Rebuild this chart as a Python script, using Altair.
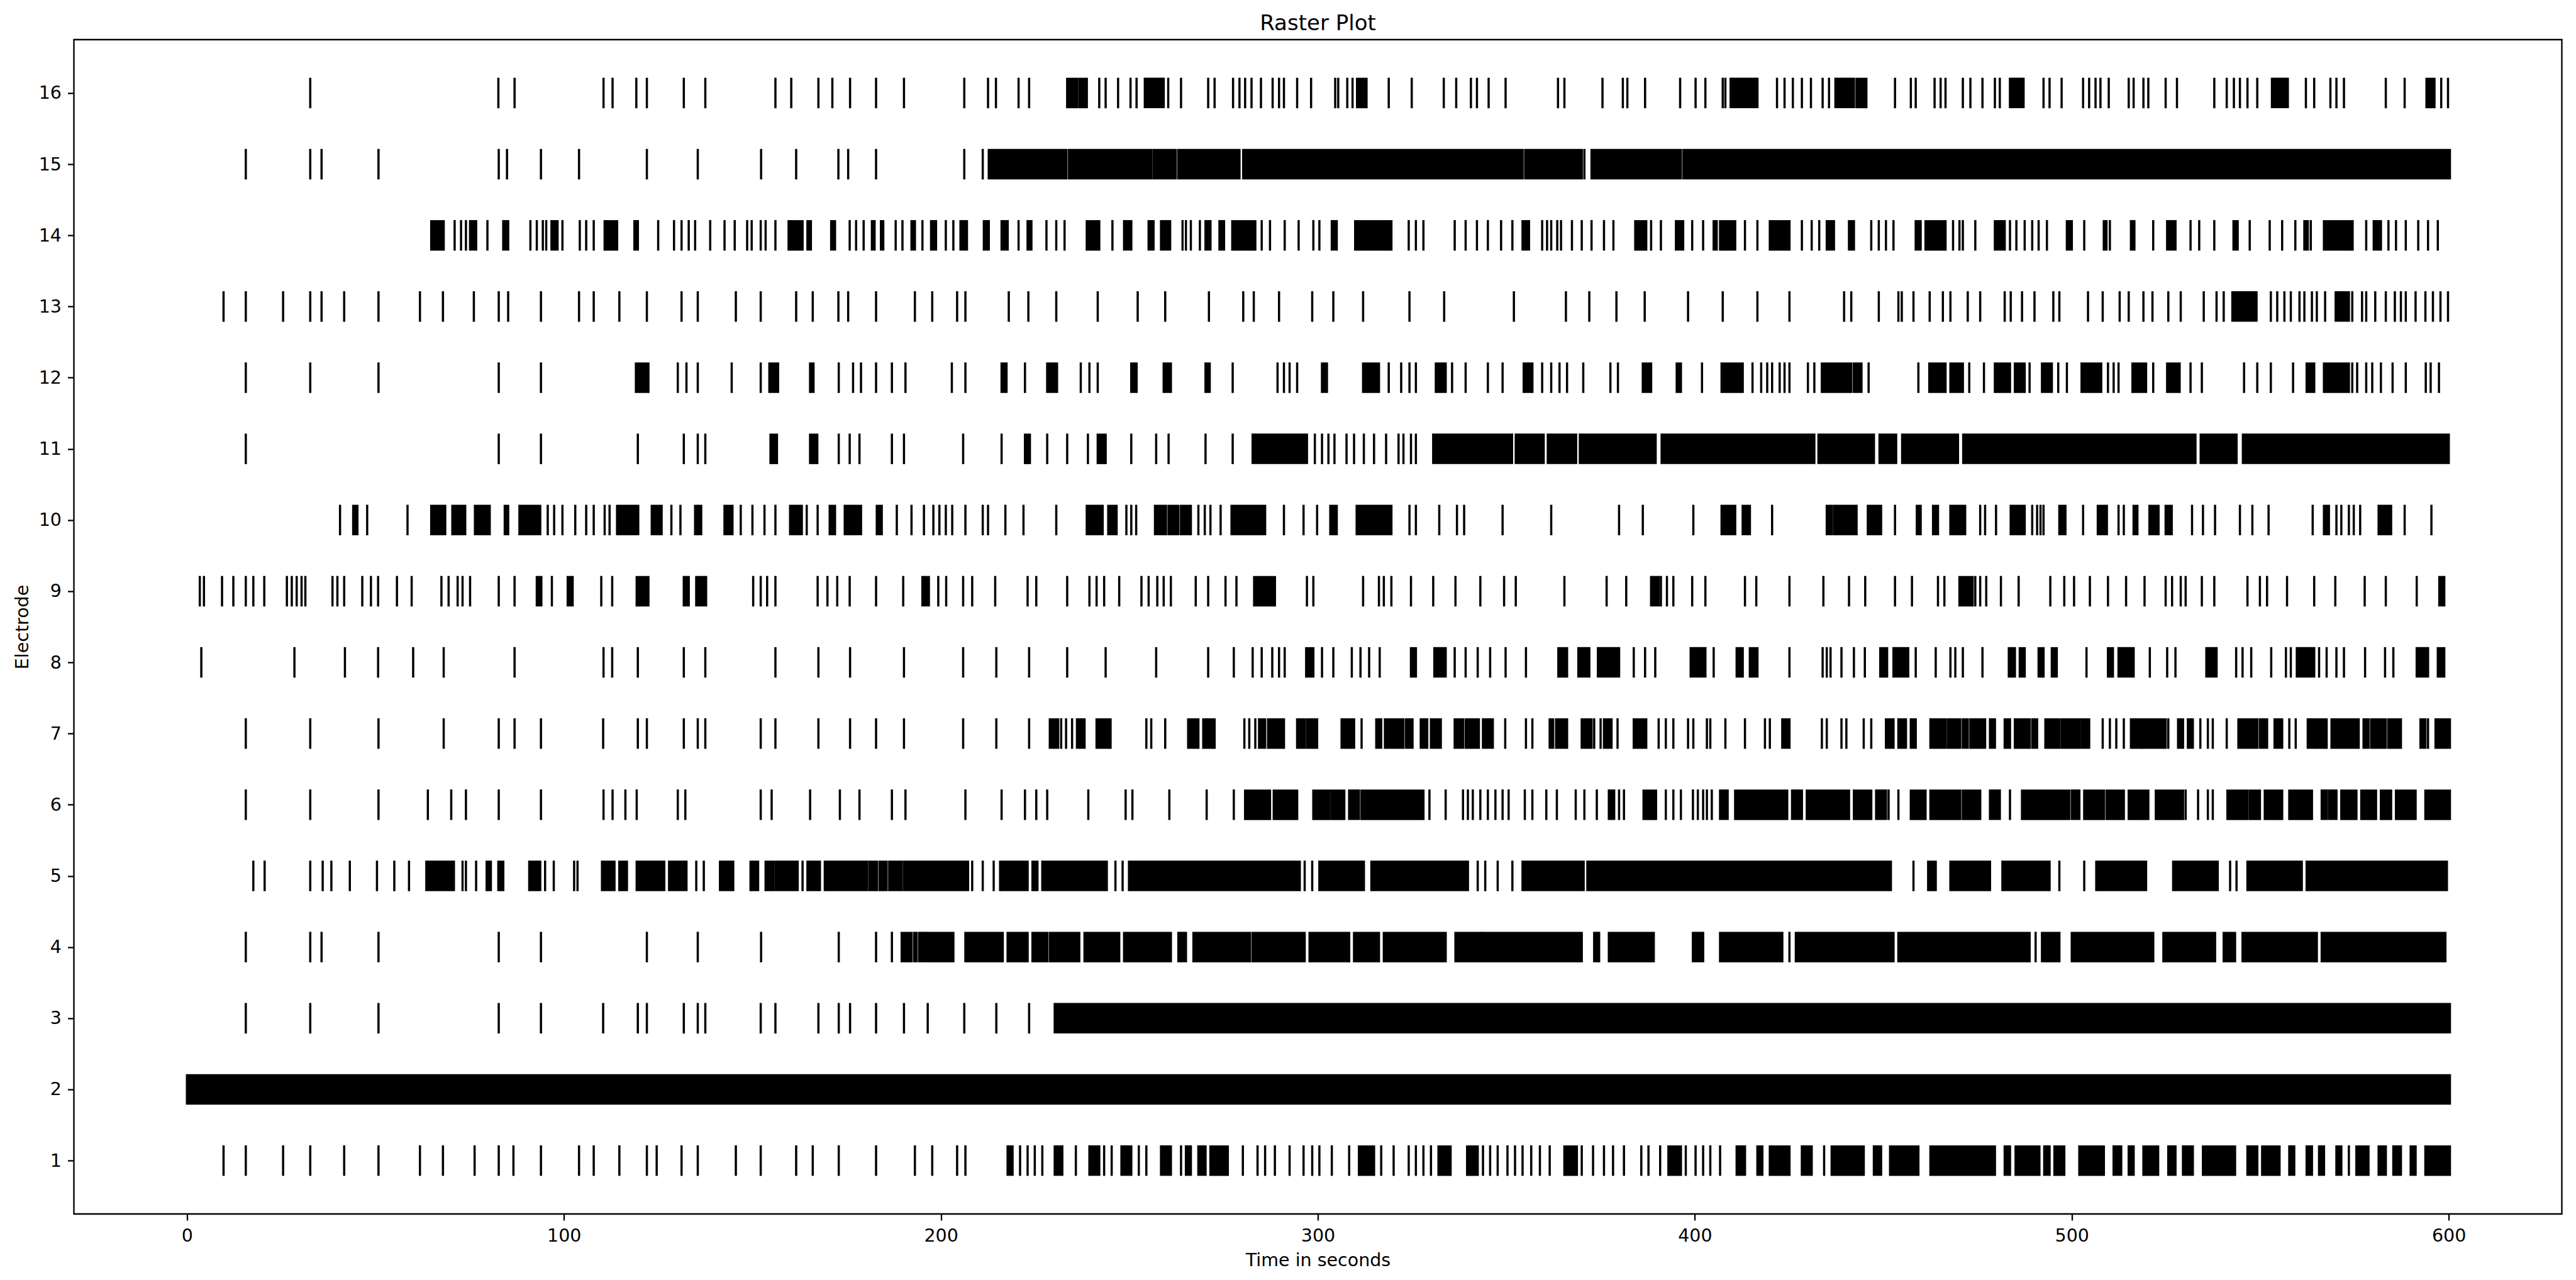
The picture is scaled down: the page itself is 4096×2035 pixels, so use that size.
import altair as alt
import pandas as pd

# ---- spike times (seconds), per electrode ----
E16_SPIKES = [32.7, 82.6, 86.9, 110.5, 112.9, 119.2, 122.0, 131.8, 137.5, 156.1, 160.3, 167.5, 171.2, 175.9, 182.8, 190.2,
              206.2, 212.5, 214.6, 220.6, 223.4, 242.0, 243.7, 247.0, 250.3, 251.9, 260.3, 263.7, 270.9, 272.6, 277.5,
              279.2, 280.7, 282.4, 284.9, 288.0, 289.7, 291.0, 294.5, 298.2, 304.6, 305.4, 307.8, 309.2, 318.8, 324.9,
              333.4, 336.7, 340.6, 342.2, 345.3, 349.8, 363.7, 365.4, 375.5, 380.9, 382.1, 386.8, 396.1, 400.2, 402.8,
              407.4, 408.1, 421.8, 423.8, 426.0, 428.4, 430.8, 433.9, 435.6, 453.1, 457.3, 458.6, 463.6, 465.2, 466.5,
              471.1, 473.1, 476.3, 479.6, 480.9, 492.5, 494.1, 497.3, 503.0, 504.6, 506.3, 507.6, 509.8, 515.1, 516.4,
              519.0, 520.3, 524.9, 527.9, 537.8, 541.1, 543.0, 544.6, 546.6, 549.2, 562.1, 564.3, 568.6, 570.2, 572.2,
              583.3, 588.3, 598.0, 599.8]
E16_BURSTS = [[233.5, 236.1], [236.7, 238.7], [254.1, 259.1], [310.4, 312.9], [409.5, 416.6], [437.3, 442.2],
              [442.9, 445.5], [483.6, 487.2], [553.1, 557.3], [594.1, 596.2]]

E15_SPIKES = [15.6, 32.7, 35.7, 50.8, 82.7, 84.9, 93.9, 104.0, 122.0, 135.5, 152.3, 161.6, 172.8, 175.4, 182.8,
              206.2, 211.1, 370.7]
E15_BURSTS = [[212.7, 233.3], [234.0, 255.8], [256.4, 262.3], [263.0, 279.2], [280.2, 354.3], [355.0, 370.0],
              [372.6, 396.3], [397.0, 600.3]]

E14_SPIKES = [71.0, 72.7, 74.0, 79.7, 91.1, 92.8, 94.4, 95.3, 99.6, 104.2, 105.9, 107.9, 125.0, 129.2, 131.2, 133.1,
              134.8, 138.8, 142.6, 145.3, 148.6, 149.8, 152.2, 153.5, 156.1, 175.8, 177.5, 179.5, 188.0, 189.8, 195.1,
              201.3, 203.3, 220.6, 228.0, 230.6, 232.8, 245.5, 264.1, 265.0, 266.3, 268.7, 285.1, 287.3, 291.2, 294.9,
              298.8, 300.4, 324.1, 326.0, 328.0, 336.3, 339.2, 342.2, 345.1, 348.6, 351.6, 359.5, 360.8, 361.9, 363.5,
              364.5, 367.4, 370.0, 372.6, 375.9, 378.4, 388.4, 391.0, 399.3, 402.2, 413.3, 416.6, 428.4, 431.0, 433.0,
              446.8, 448.8, 450.7, 452.7, 468.5, 470.2, 471.1, 474.4, 483.6, 485.3, 487.5, 489.5, 491.2, 493.4, 503.3,
              510.1, 521.6, 531.5, 533.8, 537.8, 547.2, 552.5, 555.8, 559.3, 563.4, 574.5, 578.1, 584.0, 586.0, 588.6,
              591.9, 594.5, 597.1]
E14_BURSTS = [[64.8, 68.1], [75.1, 76.7], [83.9, 85.2], [96.7, 98.3], [110.8, 114.1], [118.7, 119.6], [159.6, 163.3],
              [164.6, 165.5], [170.9, 171.9], [181.7, 182.4], [184.1, 184.7], [192.2, 193.1], [197.4, 198.7],
              [205.2, 206.9], [211.4, 212.7], [216.1, 217.7], [223.0, 224.0], [238.7, 242.0], [248.6, 250.5],
              [255.1, 256.4], [258.4, 260.8], [270.2, 271.5], [273.9, 275.1], [277.3, 283.4], [303.7, 305.0],
              [309.9, 319.5], [354.3, 356.0], [384.2, 387.1], [395.0, 396.9], [405.0, 405.8], [406.7, 410.7],
              [419.9, 425.1], [435.0, 436.9], [440.9, 442.2], [458.6, 459.9], [461.2, 466.5], [479.6, 482.2],
              [498.7, 500.0], [508.5, 509.2], [515.7, 516.6], [525.3, 527.5], [542.9, 544.0], [561.7, 562.6],
              [566.9, 574.1], [580.1, 582.0]]

E13_SPIKES = [9.7, 15.6, 25.5, 32.7, 35.7, 41.7, 50.8, 61.8, 67.9, 76.1, 82.7, 85.2, 93.9, 104.0, 107.9, 114.7, 122.0,
              131.2, 135.5, 145.6, 152.2, 161.6, 166.0, 172.8, 175.4, 182.8, 193.1, 197.7, 204.3, 206.5, 218.0, 223.2,
              230.6, 241.6, 252.2, 259.5, 271.1, 280.2, 283.0, 289.7, 298.5, 304.1, 312.0, 324.3, 333.5, 352.0, 365.8,
              372.0, 379.2, 386.7, 398.2, 407.4, 416.6, 425.1, 439.6, 441.5, 448.8, 454.0, 454.9, 458.0, 462.3, 465.8,
              467.8, 472.4, 475.7, 482.2, 483.8, 486.8, 490.1, 495.1, 496.7, 504.3, 508.2, 512.7, 515.1, 519.0, 521.4,
              525.6, 528.9, 535.0, 538.4, 540.3, 552.8, 554.5, 556.4, 558.1, 560.4, 561.7, 563.7, 565.0, 567.2, 574.4,
              577.0, 578.1, 580.5, 583.3, 585.7, 587.3, 588.6, 591.2, 593.8, 595.8, 597.8, 599.8]
E13_BURSTS = [[542.6, 549.0], [570.0, 573.5]]

E12_SPIKES = [15.6, 32.7, 50.8, 82.7, 93.9, 130.2, 132.5, 135.5, 144.5, 152.2, 172.9, 176.7, 178.8, 182.8, 187.0,
              190.6, 202.9, 206.5, 222.3, 237.1, 239.4, 241.6, 277.4, 289.3, 291.0, 292.5, 294.5, 318.8, 322.1, 324.3,
              326.0, 335.6, 339.2, 345.1, 349.0, 359.5, 361.9, 364.1, 366.1, 370.4, 377.6, 379.6, 401.9, 415.3, 417.6,
              419.2, 420.5, 422.5, 423.8, 425.1, 430.0, 431.7, 446.1, 459.3, 472.8, 476.7, 488.8, 496.4, 498.7, 509.6,
              511.1, 512.4, 521.6, 531.5, 534.5, 545.7, 549.2, 552.8, 558.7, 574.4, 575.7, 578.1, 579.7, 582.0, 585.1,
              588.6, 593.9, 595.2, 597.4]
E12_BURSTS = [[119.1, 122.4], [154.5, 156.8], [165.3, 166.2], [216.1, 217.4], [228.2, 230.8], [250.5, 251.9],
              [259.1, 261.0], [270.2, 271.3], [301.1, 302.4], [312.0, 316.2], [331.3, 333.9], [354.6, 356.9],
              [386.2, 388.4], [395.2, 396.3], [407.1, 412.7], [433.7, 441.5], [442.2, 444.2], [462.2, 466.5],
              [467.8, 471.1], [479.6, 483.6], [484.9, 487.5], [492.1, 494.7], [502.6, 507.8], [516.1, 519.7],
              [525.3, 528.6], [562.3, 564.3], [566.9, 573.5]]

E11_SPIKES = [15.6, 82.7, 93.9, 119.6, 131.8, 135.5, 137.5, 172.9, 175.8, 178.4, 187.0, 190.2, 205.9, 216.1, 228.2,
              233.5, 239.0, 250.5, 257.1, 260.4, 270.2, 277.4, 299.2, 301.1, 302.8, 304.4, 307.6, 309.6, 312.2, 314.9,
              318.1, 321.4, 322.7, 324.7, 326.0]
E11_BURSTS = [[154.8, 156.5], [165.3, 167.2], [222.3, 223.6], [241.6, 243.7], [282.7, 297.1], [330.6, 351.5],
              [352.5, 359.9], [361.0, 368.5], [369.5, 389.6], [391.2, 431.7], [432.8, 447.5], [449.0, 453.4],
              [455.0, 469.8], [471.2, 532.8], [534.2, 543.7], [545.4, 600.0]]

E10_SPIKES = [40.6, 47.8, 58.5, 95.7, 97.4, 99.6, 103.0, 105.9, 107.9, 110.8, 112.1, 128.5, 130.9, 146.9, 150.0,
              153.2, 156.1, 164.4, 167.3, 188.3, 192.2, 195.5, 198.0, 199.6, 201.3, 203.0, 206.5, 211.1, 212.5, 217.1,
              221.9, 230.6, 249.2, 250.5, 251.8, 268.3, 270.0, 271.5, 274.2, 291.0, 296.2, 299.8, 324.3, 326.0, 332.2,
              336.9, 338.8, 349.0, 361.9, 379.9, 386.2, 399.6, 420.5, 453.1, 475.7, 477.0, 479.9, 489.5, 490.8, 491.7,
              492.5, 503.0, 512.4, 513.8, 531.9, 534.8, 538.0, 544.6, 547.9, 552.2, 563.9, 570.2, 571.5, 573.5, 574.8,
              576.5, 588.3, 595.4]
E10_BURSTS = [[44.1, 45.2], [64.8, 68.5], [70.4, 73.8], [76.4, 80.3], [84.3, 85.2], [88.2, 93.7], [114.1, 119.7],
              [123.3, 125.9], [134.8, 136.4], [142.6, 144.7], [160.0, 163.1], [170.5, 171.9], [174.5, 178.8],
              [183.0, 184.3], [238.7, 242.9], [244.4, 246.6], [256.8, 259.7], [260.4, 263.0], [263.7, 266.3],
              [277.1, 286.0], [303.3, 305.0], [310.3, 319.5], [407.1, 410.7], [412.7, 414.6], [435.0, 436.3],
              [436.9, 442.9], [445.9, 449.4], [458.9, 459.9], [463.2, 464.5], [467.8, 471.7], [483.8, 487.5],
              [496.7, 498.3], [506.9, 509.3], [516.4, 517.4], [520.6, 523.0], [524.9, 526.5], [566.9, 568.2],
              [581.4, 584.7]]

E9_SPIKES = [3.4, 4.5, 9.3, 12.3, 15.6, 17.6, 20.5, 26.5, 27.8, 29.1, 30.4, 31.4, 38.6, 39.9, 41.7, 46.5, 48.8, 50.7,
             55.7, 59.6, 67.5, 69.4, 71.8, 73.1, 75.1, 82.7, 86.9, 96.8, 109.9, 112.8, 150.2, 152.2, 153.9, 156.1,
             167.3, 169.9, 172.5, 175.8, 182.8, 190.0, 199.3, 201.4, 205.9, 208.3, 214.4, 223.0, 225.3, 233.5, 239.4,
             241.3, 243.3, 247.3, 253.2, 255.1, 257.4, 259.1, 261.0, 267.6, 270.9, 275.5, 278.4, 297.1, 298.8, 312.0,
             316.2, 317.5, 319.5, 324.7, 330.6, 336.5, 343.1, 349.4, 352.5, 365.4, 376.6, 381.8, 391.0, 392.6, 394.3,
             399.3, 402.8, 413.3, 416.3, 425.1, 434.1, 440.9, 445.2, 453.1, 457.6, 464.5, 466.2, 474.4, 475.7, 477.3,
             481.2, 485.9, 494.3, 498.0, 500.6, 504.8, 509.6, 514.4, 519.3, 524.9, 526.6, 528.9, 530.2, 534.5, 537.8,
             546.6, 549.9, 551.8, 557.1, 564.3, 569.9, 577.7, 583.3, 591.5]
E9_BURSTS = [[92.8, 94.0], [101.0, 102.3], [119.3, 122.4], [131.8, 133.1], [135.1, 137.7], [195.1, 196.8],
             [283.1, 288.6], [388.4, 390.4], [470.2, 473.7], [597.5, 598.8]]

E8_SPIKES = [3.8, 28.5, 41.9, 50.7, 60.0, 68.1, 86.9, 110.5, 112.8, 119.6, 131.8, 137.5, 156.1, 167.5, 175.9, 190.2,
             205.9, 214.7, 223.4, 233.5, 243.7, 257.1, 270.9, 277.7, 282.7, 285.1, 287.9, 289.7, 291.2, 301.1, 304.1,
             309.0, 311.3, 313.6, 316.4, 336.3, 339.2, 342.4, 345.7, 349.8, 355.2, 383.8, 386.8, 389.5, 405.0, 425.1,
             433.9, 435.0, 436.0, 438.9, 442.2, 445.1, 458.6, 463.9, 467.8, 469.1, 471.1, 476.3, 503.9, 520.7, 525.3,
             527.5, 543.6, 545.3, 547.6, 552.9, 556.8, 558.1, 565.6, 567.6, 570.2, 572.2, 577.8, 583.1, 585.3]
E8_BURSTS = [[296.9, 298.8], [324.7, 326.0], [330.9, 333.9], [363.8, 366.1], [369.1, 372.0], [374.3, 379.9],
             [398.9, 402.8], [411.1, 412.7], [414.6, 416.6], [449.2, 451.0], [452.7, 456.6], [483.3, 484.9],
             [486.2, 487.5], [491.2, 492.5], [494.7, 496.0], [509.6, 510.9], [512.4, 516.4], [535.7, 538.4],
             [559.7, 564.3], [591.5, 594.5], [597.1, 598.8]]

E7_SPIKES = [15.6, 32.7, 50.8, 68.1, 82.7, 86.9, 93.9, 110.4, 119.6, 122.0, 131.8, 135.5, 137.5, 152.2, 156.1, 167.5,
             175.9, 182.8, 190.2, 205.9, 214.7, 223.4, 231.9, 233.2, 234.8, 254.5, 255.8, 259.5, 280.5, 281.8, 283.4,
             311.6, 349.7, 355.2, 356.9, 373.3, 375.0, 379.5, 390.4, 392.3, 394.3, 398.2, 399.6, 403.2, 404.1, 408.1,
             413.3, 418.6, 419.9, 433.7, 435.0, 438.9, 440.2, 444.8, 446.8, 508.2, 510.1, 511.8, 513.8, 525.6, 534.1,
             536.1, 537.4, 541.1, 557.7, 559.4, 594.5]
E7_BURSTS = [[228.9, 231.1], [236.1, 238.1], [241.3, 245.0], [265.6, 268.3], [269.6, 272.6], [284.4, 286.0],
             [286.8, 291.0], [294.5, 296.5], [297.1, 299.8], [306.3, 309.6], [315.5, 316.8], [317.8, 322.7],
             [323.4, 325.1], [327.3, 329.0], [330.0, 332.6], [336.3, 338.5], [339.2, 342.7], [343.8, 346.4],
             [361.5, 362.4], [363.2, 366.1], [370.0, 372.6], [375.9, 377.9], [383.8, 387.1], [423.2, 425.1],
             [450.7, 452.7], [454.0, 456.0], [457.3, 458.6], [462.5, 466.5], [467.1, 470.4], [471.1, 472.4],
             [473.1, 477.0], [478.3, 479.6], [482.2, 483.6], [484.9, 488.8], [489.5, 490.8], [493.0, 496.7],
             [497.3, 502.0], [502.6, 504.6], [515.7, 518.4], [518.7, 524.9], [528.2, 529.5], [530.8, 532.1],
             [544.2, 549.2], [549.9, 551.8], [553.8, 555.8], [562.6, 564.3], [564.7, 567.6], [568.9, 576.1],
             [577.4, 578.7], [579.4, 583.3], [584.0, 587.3], [592.5, 593.8], [596.5, 600.3]]

E6_SPIKES = [15.6, 32.7, 50.8, 63.9, 70.1, 74.0, 82.7, 93.9, 110.5, 112.9, 116.3, 119.3, 130.2, 132.2, 152.2, 155.1,
             165.3, 173.2, 178.4, 187.0, 190.6, 206.5, 216.1, 222.3, 225.3, 228.2, 239.1, 249.0, 250.8, 260.6, 270.5,
             277.7, 329.6, 333.9, 338.5, 339.8, 341.1, 343.1, 345.1, 347.1, 349.0, 350.6, 354.9, 356.9, 360.6, 363.4,
             368.4, 370.7, 374.0, 379.9, 381.2, 392.3, 394.3, 396.3, 399.5, 400.8, 402.2, 403.2, 404.5, 451.4, 454.0,
             483.6, 530.2, 533.5, 536.1, 537.4]
E6_BURSTS = [[280.7, 287.3], [288.3, 294.5], [298.8, 303.1], [303.7, 307.0], [308.3, 310.9], [311.6, 328.0],
             [377.2, 378.6], [386.4, 389.7], [406.7, 408.7], [410.7, 424.5], [425.8, 428.4], [429.7, 440.9],
             [442.2, 446.8], [448.1, 450.7], [457.3, 461.2], [462.5, 470.4], [471.1, 475.7], [478.3, 480.9],
             [486.8, 499.3], [500.0, 502.0], [503.3, 508.5], [509.2, 513.8], [515.1, 520.3], [522.3, 529.5],
             [541.3, 546.6], [547.2, 549.9], [551.2, 555.8], [557.7, 563.7], [566.3, 567.6], [568.2, 570.2],
             [571.5, 575.5], [576.8, 580.7], [582.0, 584.7], [586.0, 591.2], [593.8, 600.3]]

E5_SPIKES = [17.6, 20.6, 32.7, 36.0, 38.3, 43.2, 50.4, 55.0, 58.9, 73.1, 74.0, 76.7, 95.0, 97.3, 102.7, 103.6,
             135.1, 137.1, 163.3, 208.3, 211.1, 214.0, 215.7, 246.3, 248.2, 296.5, 298.5, 342.4, 344.4, 347.7, 351.6,
             458.0, 496.7, 503.3, 542.0, 543.7]
E5_BURSTS = [[63.5, 70.8], [79.5, 80.6], [82.6, 83.9], [90.8, 93.7], [110.1, 113.4], [114.7, 116.7], [119.3, 126.6],
             [127.9, 132.5], [141.4, 144.9], [149.5, 151.5], [153.5, 155.5], [156.1, 162.0], [164.6, 167.9],
             [169.2, 180.4], [181.0, 183.0], [183.7, 185.6], [186.3, 189.6], [190.2, 207.2], [216.1, 223.0],
             [224.3, 225.6], [226.9, 244.0], [249.9, 295.2], [300.4, 312.2], [314.2, 339.8], [354.3, 370.5],
             [371.5, 452.0], [461.9, 463.9], [467.8, 478.3], [481.6, 494.1], [506.5, 519.7], [526.9, 538.7],
             [546.6, 561.0], [562.3, 599.5]]

E4_SPIKES = [15.6, 32.7, 35.7, 50.8, 82.7, 93.9, 122.0, 135.5, 152.3, 172.9, 182.8, 187.0, 425.1, 490.4]
E4_BURSTS = [[189.6, 192.2], [192.9, 193.5], [194.2, 196.2], [196.7, 203.3], [206.5, 216.4], [217.7, 223.0],
             [224.3, 228.2], [228.9, 236.7], [238.1, 247.3], [248.6, 261.0], [263.0, 265.0], [267.0, 282.0],
             [282.7, 296.5], [297.8, 308.3], [309.6, 316.2], [317.5, 333.9], [336.5, 343.1], [343.5, 370.0],
             [373.3, 374.6], [377.2, 389.1], [399.5, 402.2], [406.7, 423.2], [426.8, 452.7], [454.0, 488.8],
             [492.1, 496.7], [500.0, 521.6], [524.3, 538.0], [540.3, 543.3], [545.3, 565.0], [566.3, 599.1]]

E3_SPIKES = [15.6, 32.7, 50.8, 82.7, 93.9, 110.4, 119.6, 122.0, 131.8, 135.5, 137.5, 152.2, 156.1, 167.5, 172.9,
             175.9, 182.8, 190.2, 196.5, 206.2, 214.7, 223.4]
E3_BURSTS = [[230.2, 600.3]]

E2_SPIKES = []
E2_BURSTS = [[0.0, 600.3]]

E1_SPIKES = [9.7, 15.6, 25.5, 32.7, 41.7, 50.8, 61.8, 67.9, 76.3, 82.7, 86.6, 93.9, 104.0, 107.9, 114.7, 122.0, 124.6,
             131.2, 135.5, 145.6, 152.2, 161.6, 166.0, 172.9, 182.8, 193.1, 197.7, 204.3, 206.5, 221.0, 223.0, 224.9,
             226.9, 235.8, 243.3, 245.3, 252.5, 254.5, 263.7, 280.1, 284.0, 286.0, 288.6, 292.5, 296.2, 298.5, 300.4,
             303.7, 308.3, 316.8, 320.1, 324.1, 326.0, 328.0, 330.0, 343.8, 345.7, 347.7, 350.3, 352.3, 354.3, 356.6,
             358.9, 361.5, 370.0, 373.0, 375.9, 378.3, 381.2, 385.8, 387.7, 390.8, 397.6, 400.2, 402.2, 404.1, 406.7,
             434.3, 573.5]
E1_BURSTS = [[217.7, 219.0], [230.2, 232.2], [239.4, 242.0], [247.9, 250.5], [258.4, 261.0], [265.0, 266.3],
             [268.3, 270.2], [271.5, 276.1], [310.9, 314.9], [332.0, 335.2], [339.6, 342.4], [365.4, 368.7],
             [393.0, 396.3], [411.1, 413.3], [416.6, 417.9], [419.9, 425.1], [428.4, 431.0], [436.3, 444.8],
             [447.5, 449.4], [451.8, 459.3], [462.5, 479.6], [482.2, 483.6], [485.1, 491.4], [492.7, 494.1],
             [495.4, 498.0], [502.0, 508.5], [511.1, 513.1], [515.1, 516.4], [519.0, 522.9], [525.6, 527.5],
             [529.5, 532.1], [534.8, 543.3], [546.6, 549.2], [550.5, 555.1], [557.7, 559.0], [562.3, 563.7],
             [565.6, 566.9], [570.2, 571.5], [575.5, 578.7], [581.4, 583.3], [585.3, 587.3], [589.9, 591.2],
             [593.8, 600.3]]

ELECTRODES = list(range(1, 17))
X_TICKS = [0, 100, 200, 300, 400, 500, 600]

SPIKES = {1: E1_SPIKES, 2: E2_SPIKES, 3: E3_SPIKES, 4: E4_SPIKES, 5: E5_SPIKES, 6: E6_SPIKES, 7: E7_SPIKES,
          8: E8_SPIKES, 9: E9_SPIKES, 10: E10_SPIKES, 11: E11_SPIKES, 12: E12_SPIKES, 13: E13_SPIKES,
          14: E14_SPIKES, 15: E15_SPIKES, 16: E16_SPIKES}
BURSTS = {1: E1_BURSTS, 2: E2_BURSTS, 3: E3_BURSTS, 4: E4_BURSTS, 5: E5_BURSTS, 6: E6_BURSTS, 7: E7_BURSTS,
          8: E8_BURSTS, 9: E9_BURSTS, 10: E10_BURSTS, 11: E11_BURSTS, 12: E12_BURSTS, 13: E13_BURSTS,
          14: E14_BURSTS, 15: E15_BURSTS, 16: E16_BURSTS}

spike_df = pd.DataFrame([{"t": t, "e": e} for e in ELECTRODES for t in SPIKES[e]])
HALF = 0.3  # half a spike line width, in seconds, so burst ends line up with single spikes
burst_df = pd.DataFrame([{"start": a - HALF, "end": b + HALF, "e": e} for e in ELECTRODES for a, b in BURSTS[e]])

FONT = "DejaVu Sans"
FS = 28.5
LINE_LEN = 48.5

x_scale = alt.Scale(domain=[-30, 630], nice=False, zero=False)
y_scale = alt.Scale(domain=[0.25, 16.75], nice=False, zero=False)

common_axis = dict(grid=False, domain=False, tickSize=10, tickWidth=2.3, tickColor="black",
                   labelFont=FONT, labelFontSize=FS, labelColor="black", labelPadding=10,
                   titleFont=FONT, titleFontSize=FS, titleFontWeight="normal", titleColor="black",
                   labelFlush=False, labelOverlap=False)

x_axis = alt.Axis(values=X_TICKS, title="Time in seconds", titlePadding=11, **common_axis)
y_axis = alt.Axis(values=ELECTRODES, title="Electrode", titlePadding=11, format="d", **common_axis)

ticks = alt.Chart(spike_df).mark_tick(orient="vertical", size=LINE_LEN, thickness=3.5,
                                      color="black", opacity=1).encode(
    x=alt.X("t:Q", scale=x_scale, axis=x_axis),
    y=alt.Y("e:Q", scale=y_scale, axis=y_axis),
)

bursts = alt.Chart(burst_df).mark_rule(strokeWidth=LINE_LEN, strokeCap="butt", color="black", opacity=1).encode(
    x=alt.X("start:Q", scale=x_scale),
    x2="end:Q",
    y=alt.Y("e:Q", scale=y_scale),
)

chart = alt.layer(bursts, ticks).properties(
    width=3956, height=1867,
    title=alt.TitleParams("Raster Plot", font=FONT, fontSize=34, fontWeight="normal", color="black",
                          anchor="middle", baseline="alphabetic", offset=17, dy=36),
    autosize=alt.AutoSizeParams(type="none"),
    padding={"left": 117.5, "right": 22, "top": 63, "bottom": 105},
    background="white",
).configure_view(stroke="black", strokeWidth=2.3)

chart.save("out.html", embed_options={"renderer": "svg", "actions": False})
